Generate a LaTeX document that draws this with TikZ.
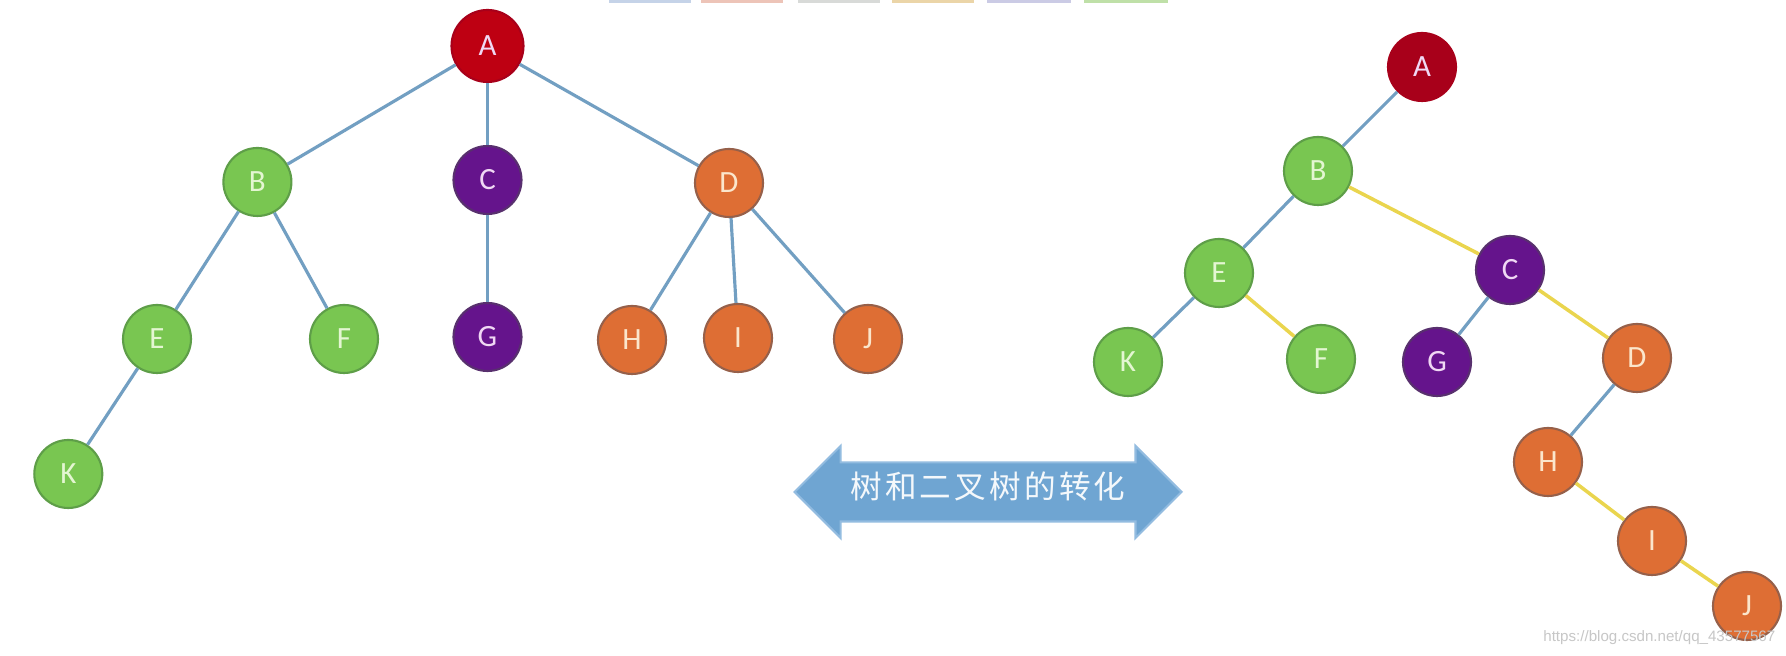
\documentclass[tikz,border=0pt]{standalone}
\usepackage{fontspec}
\setmainfont{Carlito}
\newfontfamily\cjk[LetterSpace=10]{Noto Sans CJK SC}
\newfontfamily\filigrane{Liberation Sans}
\usepackage{xcolor}
\definecolor{arbreVert}{HTML}{79C651}
\definecolor{arbreVertFonce}{HTML}{5E9E48}
\definecolor{arbreVertPale}{HTML}{E4F6D2}
\definecolor{arbreViolet}{HTML}{65148C}
\definecolor{arbreVioletFonce}{HTML}{58306E}
\definecolor{arbreVioletPale}{HTML}{F0D8F4}
\definecolor{arbreOrange}{HTML}{DE6E34}
\definecolor{arbreOrangeFonce}{HTML}{96604A}
\definecolor{arbreOrangePale}{HTML}{FBE6CC}
\definecolor{arbreRouge}{HTML}{BE0012}
\definecolor{arbreRougeFonce}{HTML}{A8001A}
\definecolor{arbreBleu}{HTML}{729FC2}
\definecolor{arbreJaune}{HTML}{EAD54E}
\definecolor{flecheBleu}{HTML}{6FA5D2}
\definecolor{flecheBord}{HTML}{93BCE0}
\definecolor{ongletBleu}{HTML}{C5D3E8}
\definecolor{ongletRose}{HTML}{EDC4B8}
\definecolor{ongletGris}{HTML}{D8DAD8}
\definecolor{ongletBeige}{HTML}{EBD5A8}
\definecolor{ongletLavande}{HTML}{CBCBE5}
\definecolor{ongletVert}{HTML}{BFE0A8}
\usepackage{tikz}
\usetikzlibrary{shapes.arrows}
\tikzset{
  %% ── Nodes ────────────────────────────────────────────────────────────
  %% One circle per letter; the colour says which subtree it comes from,
  %% and it stays the same on both sides of the arrow.
  noeud/.style        = {circle, minimum size=0.68cm, inner sep=0pt,
                         line width=0.6pt, font=\fontsize{8.8}{10}\selectfont},
  noeudVert/.style    = {noeud, fill=arbreVert, draw=arbreVertFonce,
                         text=arbreVertPale},
  noeudViolet/.style  = {noeud, fill=arbreViolet, draw=arbreVioletFonce,
                         text=arbreVioletPale},
  noeudOrange/.style  = {noeud, fill=arbreOrange, draw=arbreOrangeFonce,
                         text=arbreOrangePale},
  noeudRouge/.style   = {noeud, fill=arbreRouge, draw=arbreRougeFonce,
                         text=arbreVioletPale},
  %%
  %% ── Edges ────────────────────────────────────────────────────────────
  %% Blue is a first-child link, yellow a sibling link turned into a
  %% right child.
  arete/.style        = {draw=arbreBleu, line width=0.9pt},
  areteJaune/.style   = {draw=arbreJaune, line width=1.0pt},
  %%
  %% ── Text ─────────────────────────────────────────────────────────────
  bandeau/.style      = {double arrow, double arrow head extend=0.165cm,
                         minimum height=3.87cm, inner xsep=0pt, inner ysep=0.15cm,
                         text height=0.2cm, text depth=0.07cm,
                         fill=flecheBleu, draw=flecheBord, line width=0.6pt,
                         text=white!92!flecheBleu, font=\cjk\fontsize{9}{10}\selectfont},
}

\begin{document}
\begin{tikzpicture}[x=1cm, y=1cm]

\fill[white] (0,0) rectangle (17.86,6.56);
\useasboundingbox (0,0) rectangle (17.86,6.56);

%% faint tabs cut off at the top edge
\foreach \xa/\xb/\teinte in {6.09/6.91/ongletBleu, 7.01/7.83/ongletRose, 7.98/8.80/ongletGris,
                             8.92/9.74/ongletBeige, 9.87/10.71/ongletLavande, 10.84/11.68/ongletVert}
  \fill[\teinte] (\xa,6.53) rectangle (\xb,6.56);

%% the tree
\node[noeudRouge, minimum size=0.72cm] (ga) at (4.875, 6.10) {A};
\node[noeudVert]   (gb) at (2.574, 4.74) {B};
\node[noeudViolet] (gc) at (4.875, 4.76) {C};
\node[noeudOrange] (gd) at (7.29,  4.73) {D};
\node[noeudVert]   (ge) at (1.57,  3.17) {E};
\node[noeudVert]   (gf) at (3.44,  3.17) {F};
\node[noeudViolet] (gg) at (4.875, 3.19) {G};
\node[noeudOrange] (gh) at (6.32,  3.16) {H};
\node[noeudOrange] (gi) at (7.38,  3.18) {I};
\node[noeudOrange] (gj) at (8.68,  3.17) {J};
\node[noeudVert]   (gk) at (0.683, 1.82) {K};

\draw[arete] (ga) -- (gb);
\draw[arete] (ga) -- (gc);
\draw[arete] (ga) -- (gd);
\draw[arete] (gb) -- (ge);
\draw[arete] (gb) -- (gf);
\draw[arete] (gc) -- (gg);
\draw[arete] (gd) -- (gh);
\draw[arete] (gd) -- (gi);
\draw[arete] (gd) -- (gj);
\draw[arete] (ge) -- (gk);

%% the binary tree
\node[noeudRouge, fill=arbreRougeFonce] (da) at (14.22, 5.89) {A};
\node[noeudVert]   (db) at (13.18, 4.85) {B};
\node[noeudViolet] (dc) at (15.10, 3.86) {C};
\node[noeudVert]   (de) at (12.19, 3.83) {E};
\node[noeudVert]   (dk) at (11.28, 2.94) {K};
\node[noeudVert]   (df) at (13.21, 2.97) {F};
\node[noeudViolet] (dg) at (14.37, 2.94) {G};
\node[noeudOrange] (dd) at (16.37, 2.98) {D};
\node[noeudOrange] (dh) at (15.48, 1.94) {H};
\node[noeudOrange] (di) at (16.52, 1.15) {I};
\node[noeudOrange] (dj) at (17.47, 0.50) {J};

\draw[arete] (da) -- (db);
\draw[arete] (db) -- (de);
\draw[arete] (de) -- (dk);
\draw[arete] (dc) -- (dg);
\draw[arete] (dd) -- (dh);
\draw[areteJaune] (db) -- (dc);
\draw[areteJaune] (de) -- (df);
\draw[areteJaune] (dc) -- (dd);
\draw[areteJaune] (dh) -- (di);
\draw[areteJaune] (di) -- (dj);

\node[bandeau] (conv) at (9.88, 1.64) {树和二叉树的转化};

\node[font=\filigrane\fontsize{4.3}{5}\selectfont, text=black!22, anchor=east, inner sep=0pt]
     (url) at (17.76, 0.18) {https://blog.csdn.net/qq\_43577567};

\end{tikzpicture}
\end{document}
